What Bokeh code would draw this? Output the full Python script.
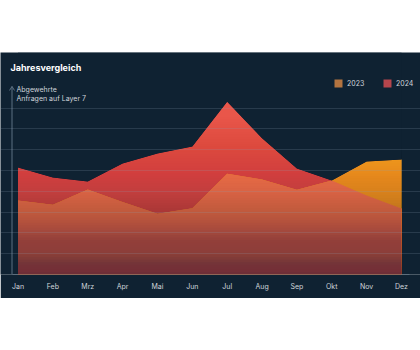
import numpy as np
from bokeh.plotting import figure
from bokeh.models import (Range1d, FixedTicker, Label, Legend, LegendItem, Spacer,
                          Grid, ColumnDataSource)
from bokeh.layouts import column
from bokeh.embed import file_html
from bokeh.resources import INLINE

# ---------------- data ----------------
months = ["Jan", "Feb", "Mrz", "Apr", "Mai", "Jun", "Jul", "Aug", "Sep", "Okt", "Nov", "Dez"]
series_2023 = [3.56, 3.35, 4.09, 3.48, 2.92, 3.19, 4.84, 4.57, 4.07, 4.52, 5.43, 5.53]
series_2024 = [5.14, 4.66, 4.47, 5.34, 5.82, 6.15, 8.30, 6.55, 5.10, 4.52, 3.80, 3.17]
grid_ticks = [1, 2, 3, 4, 5, 6, 7, 8]
axis_top = 9.04
title_text = "Jahresvergleich"
ylabel_lines = ["Abgewehrte", "Anfragen auf Layer 7"]
legend_labels = ["2023", "2024"]

# ---------------- styles ----------------
BG = "#0f2232"
TXT = "#cfd5db"
AXC = "#5d7082"
RED = "#e9564a"
ORANGE = "#ffad28"
CORAL = "#ff8250"
DARK = "#4e3552"

x = np.arange(len(months))
s23 = np.array(series_2023)
s24 = np.array(series_2024)
lo = np.minimum(s23, s24)
hi = np.maximum(s23, s24)

# pixel scale helpers (px per unit)
PX, PY = 34.86, 20.8
X0, X1 = -17.5 / PX, 11 + 19 / PX
Y1 = 222 / PY
GX0, GX1 = -5.5 / PX, 11 + 8 / PX      # extent of grid lines
xa = -6 / PX                            # y axis line position

p = figure(width=420, height=246, x_range=Range1d(X0, X1), y_range=Range1d(0, Y1),
           y_axis_location=None, toolbar_location=None, output_backend="svg",
           background_fill_color=BG, border_fill_color=BG,
           min_border_left=0, min_border_right=0, min_border_top=0, min_border_bottom=24)
p.outline_line_color = None
p.xgrid.visible = False
p.ygrid.visible = False

# legend swatch renderers (hidden underneath the real areas)
r23 = p.varea(x=x, y1=0, y2=s23, fill_color="#b37440")
r24 = p.varea(x=x, y1=0, y2=s24, fill_color="#b5454c")

# areas (flat base colours)
p.varea(x=x, y1=0, y2=s24, fill_color=RED)
p.varea(x=x, y1=0, y2=s23, fill_color=ORANGE)
p.varea(x=x, y1=0, y2=lo, fill_color=CORAL)

# vertical darkening overlay (cumulative translucent quads)
vmax = float(s24.max())
N = 70
tops = vmax * np.arange(1, N + 1) / N
mids = tops - vmax / (2 * N)
alpha_at = 0.72 * ((vmax - mids) / vmax) ** 1.9
alpha_next = np.append(alpha_at[1:], 0.0)
inc = 1 - (1 - alpha_at) / (1 - alpha_next)
src = ColumnDataSource(dict(left=[x[0]] * N, right=[x[-1]] * N, bottom=[0] * N,
                            top=tops, a=inc))
p.quad(left="left", right="right", bottom="bottom", top="top", source=src,
       fill_color=DARK, fill_alpha="a", line_color=None)

# mask above the union outline
p.varea(x=x, y1=hi, y2=Y1, fill_color=BG)

# grid on top
grid = Grid(dimension=1, ticker=FixedTicker(ticks=grid_ticks), grid_line_color="#8aa0b4",
            grid_line_alpha=0.2, grid_line_width=1, level="overlay", bounds=(GX0, GX1))
p.add_layout(grid, "center")

# x axis
ax = p.xaxis[0]
ax.ticker = FixedTicker(ticks=list(x))
ax.bounds = (GX0, GX1)
ax.major_label_overrides = {int(i): m for i, m in zip(x, months)}
ax.axis_line_color = "#8aa0b4"
ax.axis_line_alpha = 0.3
ax.major_tick_line_color = None
ax.minor_tick_line_color = None
ax.major_label_standoff = 1
ax.major_label_text_font_size = "7px"
ax.major_label_text_color = TXT
ax.major_label_text_font = "Inter"

# y axis line with open arrow head (segments)
hx, hy = 2.5 / PX, 4 / PY
p.segment(x0=[xa, xa - hx, xa + hx], y0=[0, axis_top - hy, axis_top - hy],
          x1=[xa, xa, xa], y1=[axis_top, axis_top, axis_top],
          line_color=AXC, line_width=1)

# texts
p.add_layout(Label(x=X0, y=Y1, x_offset=10, y_offset=-15, text=title_text,
                   text_font="Inter", text_font_style="bold", text_font_size="9px",
                   text_color="white", text_baseline="middle"))
for i, t in enumerate(ylabel_lines):
    p.add_layout(Label(x=X0, y=Y1, x_offset=16, y_offset=-37 - 8.5 * i, text=t,
                       text_font="Inter", text_font_size="7px", text_color=TXT,
                       text_baseline="middle"))

# legend
legend = Legend(items=[LegendItem(label=legend_labels[0], renderers=[r23]),
                       LegendItem(label=legend_labels[1], renderers=[r24])],
                location=(333, 186), orientation="horizontal",
                glyph_width=10, glyph_height=10, label_height=10, label_standoff=4,
                spacing=15, padding=0, margin=0,
                background_fill_alpha=0, border_line_alpha=0,
                label_text_font_size="7px", label_text_color=TXT, label_text_font="Inter")
p.add_layout(legend, "center")

layout = column(Spacer(width=420, height=52), p)
open("out.html", "w").write(file_html(layout, INLINE))
